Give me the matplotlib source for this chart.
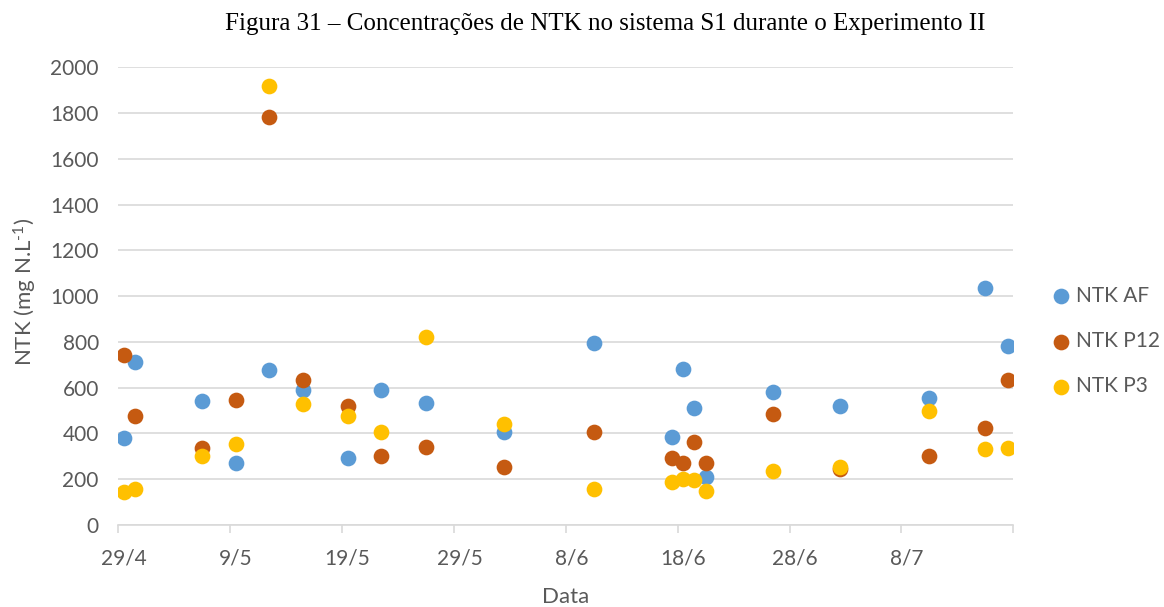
import numpy as np
import pandas as pd
import matplotlib
matplotlib.use('Agg')  # no display here
import matplotlib.pyplot as plt
import matplotlib.dates as mdates

# sampling dates and NTK values (mg N/L)
dates = ['2016-04-29', '2016-04-30', '2016-05-06', '2016-05-09', '2016-05-12',
         '2016-05-15', '2016-05-19', '2016-05-22', '2016-05-26', '2016-06-02',
         '2016-06-10', '2016-06-17', '2016-06-18', '2016-06-19', '2016-06-20',
         '2016-06-26', '2016-07-02', '2016-07-10', '2016-07-15', '2016-07-17']
ntk_af = [380, 713, 544, 270, 677, 592, 292, 589, 534, 407,
          797, 383, 681, 510, 210, 581, 518, 554, 1034, 784]
ntk_p12 = [742, 478, 336, 548, 1784, 633, 522, 303, 343, 253,
           408, 291, 273, 364, 273, 484, 246, 301, 425, 632]
ntk_p3 = [143, 157, 300, 355, 1920, 529, 477, 407, 823, 442,
          157, 189, 203, 197, 149, 236, 253, 500, 332, 336]

series_names = ['NTK AF', 'NTK P12', 'NTK P3']
tick_labels = ['29/4', '9/5', '19/5', '29/5', '8/6', '18/6', '28/6', '8/7']

plt.rcParams['font.family'] = ['Lato', 'DejaVu Sans']
plt.rcParams['mathtext.default'] = 'regular'

grey_txt = '#595959'
grid_c = '#D9D9D9'
colors = ['#5B9BD5', '#C55A11', '#FFC000']

# excel puts each day in the middle of its slot
x = mdates.date2num(pd.to_datetime(dates) + pd.Timedelta(hours=12))

fig = plt.figure(figsize=(11.64, 6.07), dpi=100)
ax = fig.add_axes([0.1016, 0.1351, 0.7689, 0.754])

for vals, c, name in zip([ntk_af, ntk_p12, ntk_p3], colors, series_names):
    ax.scatter(x, vals, s=128, color=c, label=name, linewidths=0, zorder=3)

start = pd.Timestamp('2016-04-29')
end = pd.Timestamp('2016-07-18')
ax.set_xlim(mdates.date2num(start), mdates.date2num(end))
ax.set_ylim(0, 2000)
ax.set_yticks(np.arange(0, 2001, 200))

major = pd.date_range(start, end, freq='10D')
ax.set_xticks(mdates.date2num(major))
ax.set_xticklabels([])
ax.set_xticks(mdates.date2num(major[:-1] + pd.Timedelta(hours=12)), minor=True)
ax.set_xticklabels(tick_labels, minor=True)

ax.tick_params(axis='x', which='major', length=6, color=grid_c, width=1.2)
ax.tick_params(axis='x', which='minor', length=0, pad=17, labelsize=15, labelcolor=grey_txt)
ax.tick_params(axis='y', length=0, pad=14, labelsize=15, labelcolor=grey_txt)

ax.grid(axis='y', color=grid_c, lw=1.2)
ax.set_axisbelow(True)
for s in ['top', 'right', 'left']:
    ax.spines[s].set_visible(False)
ax.spines['bottom'].set_color(grid_c)
ax.spines['bottom'].set_linewidth(1.2)

fig.text(605 / 1164, 1 - 30 / 607,
         'Figura 31 \u2013 Concentrações de NTK no sistema S1 durante o Experimento II',
         ha='center', va='baseline', family='Liberation Serif', fontsize=18)
fig.text(25 / 1164, 1 - 292 / 607, 'NTK (mg N.L$^{\u20101}$)', rotation=90,
         ha='center', va='center', fontsize=16, color=grey_txt)
fig.text(566 / 1164, 1 - 597 / 607, 'Data', ha='center', va='center',
         fontsize=16, color=grey_txt)

fig.legend(loc='center left', bbox_to_anchor=(1053 / 1164, 1 - 341 / 607),
           frameon=False, fontsize=15, labelcolor=grey_txt, handlelength=0.8,
           handletextpad=0.3, labelspacing=1.22, borderpad=0, borderaxespad=0,
           scatterpoints=1)

fig.savefig('out.png', dpi=100)
